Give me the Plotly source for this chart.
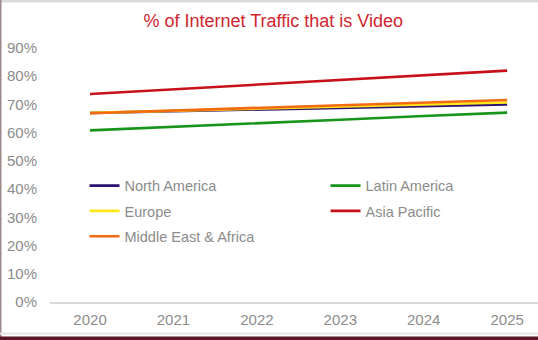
import plotly.graph_objects as go

# Share of internet traffic that is video, by region
years = ["2020", "2021", "2022", "2023", "2024", "2025"]
north_america = [67.0, 67.6, 68.2, 68.8, 69.4, 70.0]
latin_america = [60.8, 62.0, 63.3, 64.6, 65.9, 67.1]
europe = [67.0, 67.7, 68.4, 69.1, 69.9, 70.7]
asia_pacific = [73.7, 75.4, 77.0, 78.6, 80.3, 82.0]
middle_east_africa = [66.9, 67.8, 68.7, 69.7, 70.6, 71.6]

y_ticks = [0, 10, 20, 30, 40, 50, 60, 70, 80, 90]

# Draw order: the last trace sits on top.
# Each series gets its own legend box so the key can sit in a 2-column grid.
series = [
    ("North America", north_america, "#2E1170", "legend", 0.0707, 0.5209),
    ("Latin America", latin_america, "#17951A", "legend2", 0.5646, 0.5209),
    ("Europe", europe, "#FFE81A", "legend3", 0.0707, 0.4213),
    ("Asia Pacific", asia_pacific, "#C8101A", "legend4", 0.5646, 0.4213),
    ("Middle East & Africa", middle_east_africa, "#F26A12", "legend5", 0.0707, 0.3217),
]

fig = go.Figure()
legends = {}
for name, vals, color, leg, lx, ly in series:
    fig.add_trace(go.Scatter(
        x=years, y=vals, name=name, mode="lines",
        line=dict(color=color, width=2.6),
        legend=leg, hoverinfo="skip",
    ))
    legends[leg] = dict(
        x=lx, y=ly, xanchor="left", yanchor="top",
        bgcolor="rgba(0,0,0,0)", itemwidth=30,
        font=dict(size=14.5, color="#8C8C8C"),
    )

W, H = 538, 340
left, right, top, bottom = 50, 0, 48, 38

fig.update_layout(
    width=W, height=H,
    margin=dict(l=left, r=right, t=top, b=bottom),
    paper_bgcolor="white", plot_bgcolor="white",
    font=dict(family="Liberation Sans, Arial, sans-serif", color="#8C8C8C", size=15),
    title=dict(
        text="% of Internet Traffic that is Video",
        x=0.508, xanchor="center", y=0.94, yanchor="middle",
        font=dict(size=18, color="#D0252E"),
    ),
    showlegend=True,
    xaxis=dict(
        type="category", range=[-0.48, 5.37],
        showgrid=False, showline=True, linecolor="#D9D9D9", linewidth=1.5,
        ticks="", ticklabelstandoff=3, zeroline=False,
    ),
    yaxis=dict(
        range=[0, 90], tickvals=y_ticks,
        ticktext=[f"{v}%" for v in y_ticks],
        showgrid=False, showline=False, zeroline=False,
        ticks="", ticklabelstandoff=12,
    ),
    **legends,
)

# Frame around the chart
frame = [
    dict(x0=0, x1=W, y0=0, y1=2.5, color="#DADADA"),
    dict(x0=0, x1=1.5, y0=0, y1=H, color="#9E8A8E"),
    dict(x0=0, x1=W, y0=332.5, y1=334.5, color="#E4E4E4"),
    dict(x0=0, x1=W, y0=336.5, y1=H, color="#5A1424"),
]
for f in frame:
    fig.add_shape(
        type="rect", xref="paper", yref="paper",
        x0=(f["x0"] - left) / (W - left - right),
        x1=(f["x1"] - left) / (W - left - right),
        y0=(H - bottom - f["y1"]) / (H - top - bottom),
        y1=(H - bottom - f["y0"]) / (H - top - bottom),
        line_width=0, fillcolor=f["color"], layer="above",
    )

fig.write_html("out.html")
